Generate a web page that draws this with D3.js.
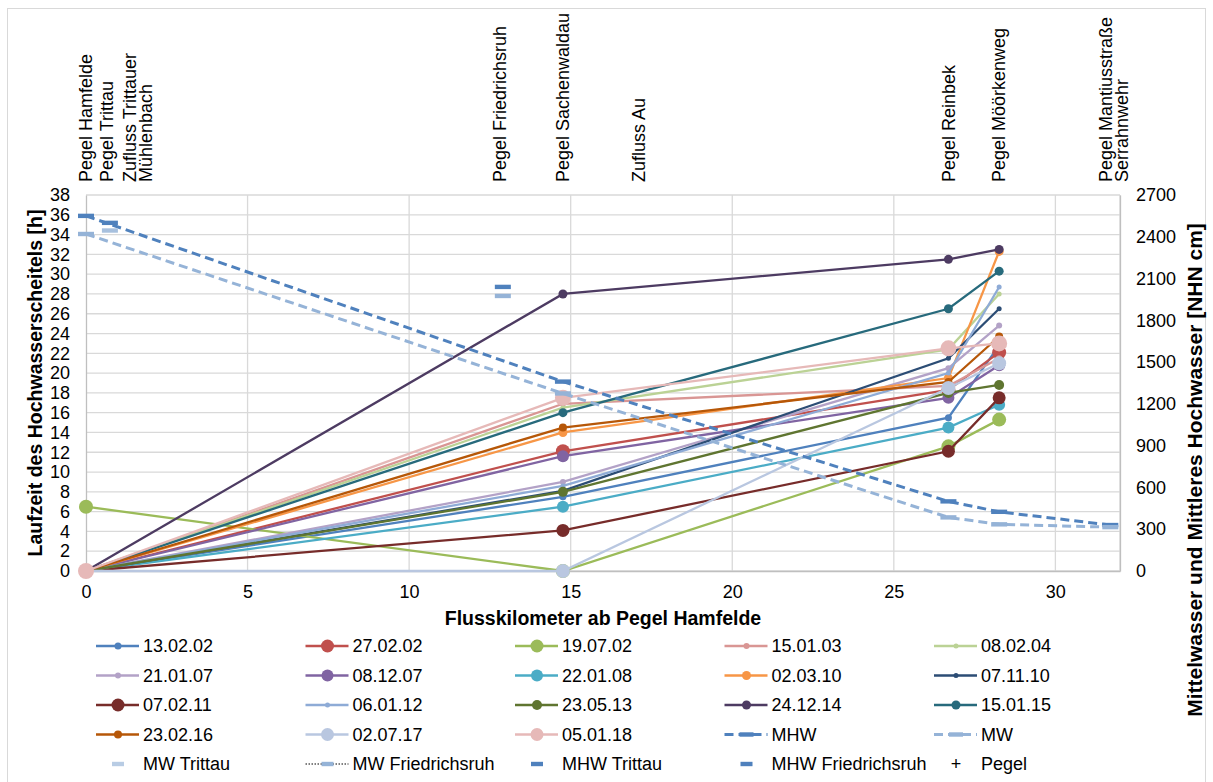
<!DOCTYPE html>
<html>
<head>
<meta charset="utf-8">
<script src="https://cdn.jsdelivr.net/npm/d3@7"></script>
<style>
  body { margin: 0; background: #fff; }
  text { font-family: "Liberation Sans", Arial, sans-serif; fill: #000; }
</style>
</head>
<body>
<script>
var width = 1213,
    height = 782;

// Messpunkte (Flusskilometer) der Laufzeit-Reihen
var messKm = [0, 14.76, 26.69, 28.26];

// Hochwasserereignisse und Laufzeit des Scheitels [h] an den Messpunkten
var ereignisse = ["13.02.02", "27.02.02", "19.07.02", "15.01.03", "08.02.04",
                  "21.01.07", "08.12.07", "22.01.08", "02.03.10", "07.11.10",
                  "07.02.11", "06.01.12", "23.05.13", "24.12.14", "15.01.15",
                  "23.02.16", "02.07.17", "05.01.18"];
var laufzeiten = [
    [0, 7.5, 15.5, 22.8],
    [0, 12.1, 18.3, 22.1],
    [6.5, 0, 12.6, 15.3],
    [0, 16.9, 18.7, 21.5],
    [0, 16.5, 22.4, 28.0],
    [0, 9.0, 20.5, 24.8],
    [0, 11.6, 17.5, 20.8],
    [0, 6.5, 14.5, 16.8],
    [0, 14.0, 19.5, 32.3],
    [0, 8.1, 21.5, 26.5],
    [0, 4.1, 12.1, 17.5],
    [0, 8.6, 20.0, 28.7],
    [0, 8.0, 18.0, 18.8],
    [0, 28.0, 31.5, 32.5],
    [0, 16.0, 26.5, 30.3],
    [0, 14.5, 19.1, 23.7],
    [0, 0, 18.5, 21.0],
    [0, 17.5, 22.5, 23.0]
];

// Mittleres Hochwasser / Mittelwasser [NHN cm]
var wasserKm = [0, 14.76, 26.69, 28.26, 31.7];
var mhwWerte = [2550, 1360, 500, 425, 330];
var mwWerte = [2420, 1275, 385, 335, 315];
var trittauKm = 0.74, mhwTrittau = 2500, mwTrittau = 2445;
var friedrichsruhKm = 12.9, mhwFriedrichsruh = 2040, mwFriedrichsruh = 1975;

// Pegel und Zuflüsse
var pegelNamen = ["Pegel Hamfelde", "Pegel Trittau", "Zufluss Trittauer|Mühlenbach",
                  "Pegel Friedrichsruh", "Pegel Sachenwaldau", "Zufluss Au",
                  "Pegel Reinbek", "Pegel Möörkenweg", "Pegel Mantiusstraße|Serrahnwehr"];
var pegelKm = [0, 0.65, 1.6, 12.8, 14.76, 17.1, 26.69, 28.26, 31.8];

var xTicks = [0, 5, 10, 15, 20, 25, 30];
var yTicks = d3.range(0, 39, 2);
var y2Ticks = d3.range(0, 2701, 300);

// Darstellung der Reihen
var farben = ["#4F81BD", "#C0504D", "#9BBB59", "#D99694", "#BBD295",
              "#B3A2C7", "#8064A2", "#4BACC6", "#F79646", "#2C4D75",
              "#772C2A", "#8EABD6", "#5F7530", "#4D3B62", "#276A7C",
              "#B65708", "#B9C7E0", "#E6B9B8"];
var radien = [3.5, 7, 7, 3, 2.5, 3, 6, 6, 4.5, 2.5, 6.5, 2.5, 5, 4.5, 4.5, 4, 7, 8];
var mhwFarbe = "#4F81BD", mwFarbe = "#95B3D7";

var svg = d3.select("body").append("svg")
    .attr("width", width)
    .attr("height", height)

svg.append("rect")
    .attr("x", 7.5).attr("y", 8.5)
    .attr("width", 1198).attr("height", 785)
    .attr("fill", "#fff")
    .attr("stroke", "#D9D9D9")

var x = d3.scaleLinear().domain([0, 32]).range([86, 1120]);
var y = d3.scaleLinear().domain([0, 38]).range([571, 195]);
var y2 = d3.scaleLinear().domain([0, 2700]).range([571, 195]);

/* Gitternetz */
var grid = svg.append("g");
grid.selectAll(".h").data(yTicks).enter().append("line")
    .attr("x1", x(0)).attr("x2", x(32))
    .attr("y1", d => y(d)).attr("y2", d => y(d))
    .attr("stroke", "#D9D9D9").attr("stroke-width", 1.3)
grid.selectAll(".v").data(xTicks.slice(1).concat([32])).enter().append("line")
    .attr("x1", d => x(d)).attr("x2", d => x(d))
    .attr("y1", y(0)).attr("y2", y(38))
    .attr("stroke", "#D9D9D9").attr("stroke-width", 1.3)

/* Achsen */
function styleAxis(g) {
    g.select(".domain").attr("stroke", "#BFBFBF").attr("stroke-width", 1.3);
    g.selectAll(".tick line").remove();
    g.selectAll("text").attr("font-size", 18).attr("fill", "#000")
        .style("font-family", '"Liberation Sans", Arial, sans-serif');
}
svg.append("g").attr("transform", "translate(0," + y(0) + ")")
    .call(d3.axisBottom(x).tickValues(xTicks).tickSizeOuter(0).tickSizeInner(0).tickPadding(14))
    .call(styleAxis)
svg.append("g").attr("transform", "translate(" + x(0) + ",0)")
    .call(d3.axisLeft(y).tickValues(yTicks).tickSizeOuter(0).tickSizeInner(0).tickPadding(16))
    .call(styleAxis)
svg.append("g").attr("transform", "translate(" + x(32) + ",0)")
    .call(d3.axisRight(y2).tickValues(y2Ticks).tickFormat(d3.format("d"))
        .tickSizeOuter(0).tickSizeInner(0).tickPadding(16))
    .call(styleAxis)

/* Achsentitel */
svg.append("text")
    .attr("transform", "translate(35," + 383 + ") rotate(-90)")
    .attr("text-anchor", "middle").attr("dy", "0.35em")
    .attr("font-size", 19.5).attr("font-weight", "bold")
    .text("Laufzeit des Hochwasserscheitels [h]")
svg.append("text")
    .attr("transform", "translate(1195,470) rotate(-90)")
    .attr("text-anchor", "middle").attr("dy", "0.35em")
    .attr("font-size", 21).attr("font-weight", "bold")
    .text("Mittelwasser und Mittleres Hochwasser [NHN cm]")
svg.append("text")
    .attr("x", (x(0) + x(32)) / 2).attr("y", 625)
    .attr("text-anchor", "middle")
    .attr("font-size", 19.5).attr("font-weight", "bold")
    .text("Flusskilometer ab Pegel Hamfelde")

/* Pegelbeschriftung */
var labels = svg.selectAll(".pegel").data(pegelNamen).enter().append("text")
    .attr("transform", (d, i) => "translate(" + x(pegelKm[i]) + ",182) rotate(-90)")
    .attr("font-size", 18)
labels.each(function (d) {
    var zeilen = d.split("|");
    var t = d3.select(this);
    zeilen.forEach(function (z, j) {
        t.append("tspan").attr("x", 0)
            .attr("dy", j == 0 ? (0.35 - (zeilen.length - 1) * 0.45) + "em" : "0.9em")
            .text(z);
    });
})

/* Laufzeit-Reihen */
var line = d3.line()
    .x((d, i) => x(messKm[i]))
    .y(d => y(d))

var reihen = svg.selectAll(".reihe").data(laufzeiten).enter().append("g")
reihen.append("path")
    .attr("d", d => line(d))
    .attr("fill", "none")
    .attr("stroke", (d, i) => farben[i])
    .attr("stroke-width", 2.3)
reihen.each(function (d, i) {
    d3.select(this).selectAll("circle").data(d).enter().append("circle")
        .attr("cx", (v, j) => x(messKm[j]))
        .attr("cy", v => y(v))
        .attr("r", radien[i])
        .attr("fill", farben[i])
})

/* MHW / MW auf Sekundärachse */
var line2 = d3.line()
    .x((d, i) => x(wasserKm[i]))
    .y(d => y2(d))

function wasserReihe(werte, farbe) {
    svg.append("path")
        .attr("d", line2(werte))
        .attr("fill", "none")
        .attr("stroke", farbe)
        .attr("stroke-width", 3)
        .attr("stroke-dasharray", "9,5")
    svg.append("g").selectAll("rect").data(werte).enter().append("rect")
        .attr("x", (d, i) => x(wasserKm[i]) - 8)
        .attr("y", d => y2(d) - 2.2)
        .attr("width", 16).attr("height", 4.4)
        .attr("fill", farbe)
}
wasserReihe(mhwWerte, mhwFarbe)
wasserReihe(mwWerte, mwFarbe)

function strich(km, wert, farbe) {
    svg.append("rect")
        .attr("x", x(km) - 8).attr("y", y2(wert) - 2.2)
        .attr("width", 16).attr("height", 4.4)
        .attr("fill", farbe)
}
strich(trittauKm, mhwTrittau, mhwFarbe)
strich(trittauKm, mwTrittau, "#A7C0DE")
strich(friedrichsruhKm, mhwFriedrichsruh, mhwFarbe)
strich(friedrichsruhKm, mwFriedrichsruh, mwFarbe)

/* Legende */
var legendNamen = ereignisse.concat(["MHW", "MW", "MW Trittau", "MW Friedrichsruh",
                                     "MHW Trittau", "MHW Friedrichsruh", "Pegel"]);
var leg = svg.selectAll(".leg").data(legendNamen).enter().append("g")
    .attr("transform", (d, i) => "translate(" + (96 + (i % 5) * 209.5) + "," + (646 + Math.floor(i / 5) * 29.5) + ")")

leg.append("text")
    .attr("x", 47).attr("dy", "0.35em")
    .attr("font-size", 18)
    .text(d => d)

leg.each(function (d, i) {
    var g = d3.select(this);
    if (i < ereignisse.length) {
        g.append("line").attr("x1", 0).attr("x2", 43)
            .attr("stroke", farben[i]).attr("stroke-width", 2.3)
        g.append("circle").attr("cx", 22).attr("r", Math.min(radien[i], 6.5))
            .attr("fill", farben[i])
    } else if (d == "MHW" || d == "MW") {
        var f = d == "MHW" ? mhwFarbe : mwFarbe;
        g.append("line").attr("x1", 0).attr("x2", 43)
            .attr("stroke", f).attr("stroke-width", 3).attr("stroke-dasharray", "9,5")
        g.append("rect").attr("x", 15).attr("y", -2.2).attr("width", 14).attr("height", 4.4)
            .attr("fill", f)
    } else if (d == "Pegel") {
        g.append("text").attr("x", 22).attr("dy", "0.35em").attr("text-anchor", "middle")
            .attr("font-size", 18).text("+")
    } else {
        var f2 = d == "MW Trittau" ? "#B8CCE4" : (d.indexOf("MW") == 0 ? mwFarbe : mhwFarbe);
        if (d == "MW Friedrichsruh") {
            g.append("line").attr("x1", 0).attr("x2", 43)
                .attr("stroke", "#000").attr("stroke-width", 1).attr("stroke-dasharray", "1.5,1.5")
        }
        g.append("rect").attr("x", 16).attr("y", -2.2).attr("width", 12).attr("height", 4.4)
            .attr("fill", f2)
    }
})
</script>
</body>
</html>
